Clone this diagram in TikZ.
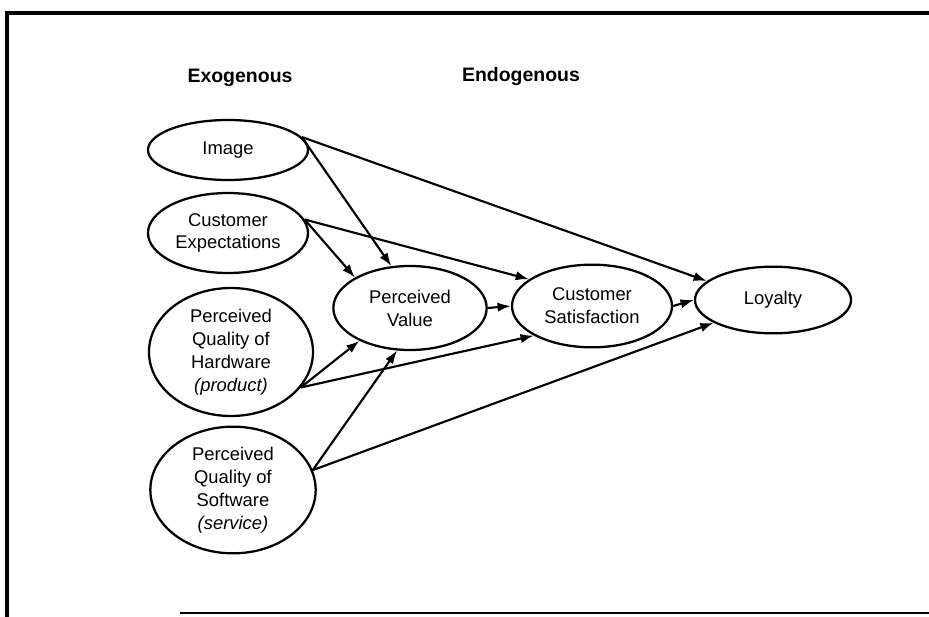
\documentclass[tikz,border=0pt]{standalone}
\usepackage{fontspec}
\setmainfont{Liberation Sans}
\usetikzlibrary{shapes.geometric,arrows.meta}

\begin{document}
\begin{tikzpicture}[x=0.75pt,y=-0.75pt,
        construct/.style={ellipse, draw, line width=1.7pt, inner sep=0pt, align=center,
            font=\fontsize{13.8}{17.2}\selectfont},
        link/.style={-{Latex[length=10pt,width=7pt]}, line width=1.6pt},
        head/.style={font=\fontsize{14.6}{16}\selectfont\bfseries}]
        \useasboundingbox (0,0) rectangle (929,617);

        % frame
        \draw[line width=3.2pt] (5,13)--(929,13);
        \draw[line width=2.4pt] (7,12)--(7,617);
        \draw[line width=2.2pt] (180,613)--(929,613);

        \node[head] (exo) at (240,78) {Exogenous};
        \node[head] (endo) at (521,77) {Endogenous};

        \node[construct, minimum width=120pt, minimum height=45pt] (img) at (228,150) {Image};
        \node[construct, minimum width=120pt, minimum height=60pt] (exp) at (228,233) {Customer\\Expectations};
        \node[construct, minimum width=123pt, minimum height=96pt] (hw) at (231,352) {Perceived\\Quality of\\Hardware\\\textit{(product)}};
        \node[construct, minimum width=124pt, minimum height=95pt] (sw) at (233,490) {Perceived\\Quality of\\Software\\\textit{(service)}};
        \node[construct, minimum width=115pt, minimum height=63pt] (val) at (410,308) {Perceived\\Value};
        \node[construct, minimum width=120pt, minimum height=62pt] (sat) at (592,306) {Customer\\Satisfaction};
        \node[construct, minimum width=117pt, minimum height=50pt] (loy) at (773,300) {Loyalty};

        \draw[link] (img.10)--(val.114);
        \draw[link] (img.10)--(loy.164);
        \draw[link] (exp.10)--(val.151);
        \draw[link] (exp.10)--(sat.157);
        \draw[link] (hw.333)--(val.213);
        \draw[link] (hw.333)--(sat.207);
        \draw[link] (sw.14)--(val.253);
        \draw[link] (sw.14)--(loy.201);
        \draw[link] (val.east)--(sat.west);
        \draw[link] (sat.east)--(loy.west);
    \end{tikzpicture}
\end{document}
